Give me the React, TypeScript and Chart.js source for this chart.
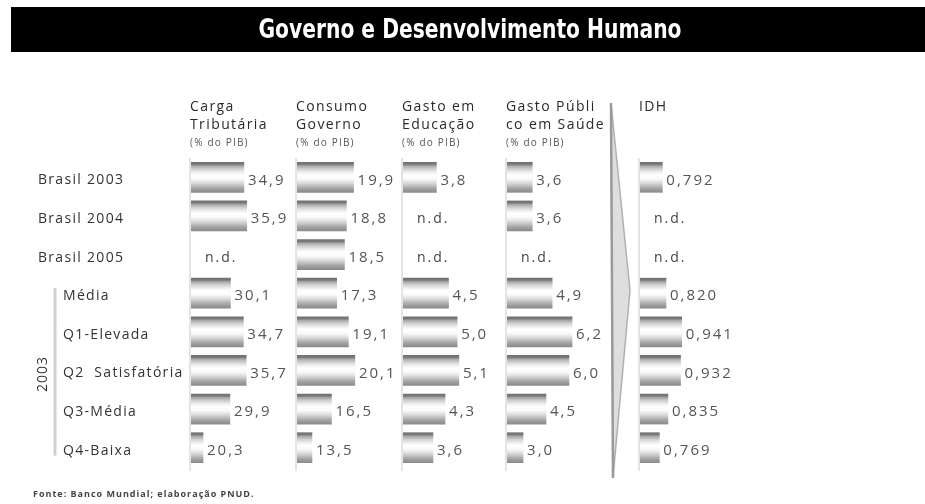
import React, { useEffect, useRef } from "react";
import { Chart, registerables } from "chart.js";

Chart.register(...registerables);

const chartTitle = "Governo e Desenvolvimento Humano";
const sourceNote = "Fonte: Banco Mundial; elaboração PNUD.";
const rowLabels = [
  "Brasil 2003",
  "Brasil 2004",
  "Brasil 2005",
  "Média",
  "Q1-Elevada",
  "Q2  Satisfatória",
  "Q3-Média",
  "Q4-Baixa",
];
const groupLabel = "2003";
const groupRows = [3, 4, 5, 6, 7];
const columnHeaders = [
  ["Carga", "Tributária", "(% do PIB)"],
  ["Consumo", "Governo", "(% do PIB)"],
  ["Gasto em", "Educação", "(% do PIB)"],
  ["Gasto Públi", "co em Saúde", "(% do PIB)"],
  ["IDH"],
];
const cargaTributaria = [34.9, 35.9, null, 30.1, 34.7, 35.7, 29.9, 20.3];
const consumoGoverno = [19.9, 18.8, 18.5, 17.3, 19.1, 20.1, 16.5, 13.5];
const gastoEducacao = [3.8, null, null, 4.5, 5.0, 5.1, 4.3, 3.6];
const gastoSaude = [3.6, 3.6, null, 4.9, 6.2, 6.0, 4.5, 3.0];
const idh = [0.792, null, null, 0.82, 0.941, 0.932, 0.835, 0.769];
const seriesDecimals = [1, 1, 1, 1, 3];
const axisMin = [16, 11.2, 1.87, 1.95, 0.62];
const axisMax = [53.86, 27.5, 7.88, 10.64, 1.774];
const missingLabel = "n.d.";

const SANS = '"Open Sans", "DejaVu Sans", sans-serif';
const NARROW = '"Liberation Sans Narrow", "DejaVu Sans Condensed", sans-serif';

function fmt(v: number, d: number) {
  return v.toFixed(d).replace(".", ",");
}

function barGradient(context: any) {
  const chart = context.chart;
  const yScale = chart.scales && chart.scales.y;
  if (!yScale || !chart.chartArea || context.dataIndex === undefined) return "#bbbbbb";
  const c = yScale.getPixelForValue(context.dataIndex);
  const g = chart.ctx.createLinearGradient(0, c - 15, 0, c + 15);
  g.addColorStop(0, "#707070");
  g.addColorStop(0.07, "#7c7c7c");
  g.addColorStop(0.12, "#a8a8a8");
  g.addColorStop(0.22, "#cfcfcf");
  g.addColorStop(0.32, "#ececec");
  g.addColorStop(0.42, "#ffffff");
  g.addColorStop(0.55, "#fafafa");
  g.addColorStop(0.66, "#e2e2e2");
  g.addColorStop(0.76, "#c6c6c6");
  g.addColorStop(0.86, "#a6a6a6");
  g.addColorStop(1, "#8a8a8a");
  return g;
}

const scaleIds = ["x1", "x2", "x3", "x4", "x5"];

function setText(ctx: any, font: string, spacing: string, color: string) {
  ctx.font = font;
  ctx.letterSpacing = spacing;
  ctx.fillStyle = color;
}

const decorPlugin = {
  id: "decor",
  beforeDraw(chart: any) {
    const ctx = chart.ctx;
    const W = chart.width;
    const H = chart.height;
    const area = chart.chartArea;
    const yScale = chart.scales.y;
    ctx.save();
    ctx.fillStyle = "#ffffff";
    ctx.fillRect(0, 0, W, H);

    // title bar
    ctx.fillStyle = "#000000";
    ctx.fillRect(11, 7, W - 11, 45);
    setText(ctx, `bold 26px ${NARROW}`, "0px", "#ffffff");
    ctx.textAlign = "center";
    ctx.textBaseline = "middle";
    ctx.fillText(chartTitle, 470, 31, 423);

    // column guide lines + headers
    scaleIds.forEach((id, k) => {
      const s = chart.scales[id];
      const x = s.left - 1;
      ctx.strokeStyle = "#e4e4e4";
      ctx.lineWidth = 2;
      ctx.beginPath();
      ctx.moveTo(x, area.top);
      ctx.lineTo(x, area.bottom + 4);
      ctx.stroke();
      const lines = columnHeaders[k];
      ctx.textAlign = "left";
      ctx.textBaseline = "middle";
      lines.forEach((t, j) => {
        const sub = j === 2;
        if (sub) setText(ctx, `10px ${SANS}`, "1.2px", "#555555");
        else setText(ctx, `14px ${SANS}`, "1.4px", "#2a2a2a");
        ctx.fillText(t, x, area.top - 51 + j * 18);
      });
    });

    // wedge arrow between columns 4 and 5
    const s5 = chart.scales.x5;
    const left = s5.left - 29;
    const tip = s5.left - 10;
    const top = area.top - 55;
    const bottom = area.bottom + 11;
    const mid = (top + bottom) / 2;
    ctx.fillStyle = "#dedede";
    ctx.strokeStyle = "#b0b0b0";
    ctx.lineWidth = 1.5;
    ctx.beginPath();
    ctx.moveTo(left, top);
    ctx.lineTo(tip, mid);
    ctx.lineTo(left + 2, bottom);
    ctx.closePath();
    ctx.fill();
    ctx.stroke();
    ctx.strokeStyle = "#9a9a9a";
    ctx.lineWidth = 2.5;
    ctx.beginPath();
    ctx.moveTo(left, top);
    ctx.lineTo(left + 2, bottom);
    ctx.stroke();

    // row labels
    setText(ctx, `14px ${SANS}`, "1.3px", "#333333");
    ctx.textAlign = "left";
    ctx.textBaseline = "middle";
    rowLabels.forEach((t, i) => {
      const y = yScale.getPixelForValue(i) + 3;
      const x = groupRows.includes(i) ? 63 : 38;
      ctx.fillText(t, x, y);
    });

    // 2003 bracket
    const gTop = yScale.getPixelForValue(groupRows[0]) - 5;
    const gBot = yScale.getPixelForValue(groupRows[groupRows.length - 1]) + 8;
    ctx.strokeStyle = "#d0d0d0";
    ctx.lineWidth = 3;
    ctx.beginPath();
    ctx.moveTo(55, gTop);
    ctx.lineTo(55, gBot);
    ctx.stroke();
    ctx.save();
    ctx.translate(43, (gTop + gBot) / 2 + 2);
    ctx.rotate(-Math.PI / 2);
    setText(ctx, `14px ${SANS}`, "1px", "#333333");
    ctx.textAlign = "center";
    ctx.textBaseline = "middle";
    ctx.fillText(groupLabel, 0, 0);
    ctx.restore();

    // footer
    setText(ctx, `bold 9px ${SANS}`, "1px", "#444444");
    ctx.textAlign = "left";
    ctx.textBaseline = "middle";
    ctx.fillText(sourceNote, 33, 494, 226);
    ctx.restore();
  },
  afterDatasetsDraw(chart: any) {
    const ctx = chart.ctx;
    const yScale = chart.scales.y;
    ctx.save();
    ctx.textAlign = "left";
    ctx.textBaseline = "middle";
    chart.data.datasets.forEach((ds: any, k: number) => {
      const meta = chart.getDatasetMeta(k);
      const s = chart.scales[scaleIds[k]];
      ds.data.forEach((v: number | null, i: number) => {
        if (v === null || v === undefined) {
          setText(ctx, `14px ${SANS}`, "2px", "#444444");
          ctx.fillText(missingLabel, s.left + 14, yScale.getPixelForValue(i) + 3);
          return;
        }
        const el = meta.data[i];
        setText(ctx, `15px ${SANS}`, "2px", "#555555");
        ctx.fillText(fmt(v, seriesDecimals[k]), el.x + 4, el.y + 3);
      });
    });
    ctx.restore();
  },
};

export default function App() {
  const ref = useRef<HTMLCanvasElement | null>(null);
  useEffect(() => {
    document.body.style.margin = "0";
    const canvas = ref.current;
    if (!canvas) return;
    const series = [cargaTributaria, consumoGoverno, gastoEducacao, gastoSaude, idh];
    const weights = [106, 106, 104, 133, 150];
    const scales: any = {
      y: {
        type: "category",
        labels: rowLabels,
        display: false,
        offset: true,
      },
    };
    scaleIds.forEach((id, k) => {
      scales[id] = {
        type: "linear",
        position: "bottom",
        stack: "cols",
        stackWeight: weights[k],
        min: axisMin[k],
        max: axisMax[k],
        display: false,
      };
    });
    const chart = new Chart(canvas, {
      type: "bar",
      data: {
        labels: rowLabels,
        datasets: series.map((d, k) => ({
          label: columnHeaders[k].join(" "),
          data: d as any,
          xAxisID: scaleIds[k],
          yAxisID: "y",
          base: axisMin[k],
          grouped: false,
          barThickness: 30,
          borderWidth: 0,
          backgroundColor: barGradient,
        })),
      },
      options: {
        indexAxis: "y",
        responsive: false,
        animation: false,
        devicePixelRatio: 1,
        layout: { padding: { left: 191, right: 135, top: 158, bottom: 37 } },
        scales,
        plugins: {
          legend: { display: false },
          tooltip: { enabled: false },
        },
      },
      plugins: [decorPlugin],
    } as any);
    return () => chart.destroy();
  }, []);
  return (
    <canvas
      ref={ref}
      width={925}
      height={504}
      style={{ display: "block", width: 925, height: 504 }}
    />
  );
}
